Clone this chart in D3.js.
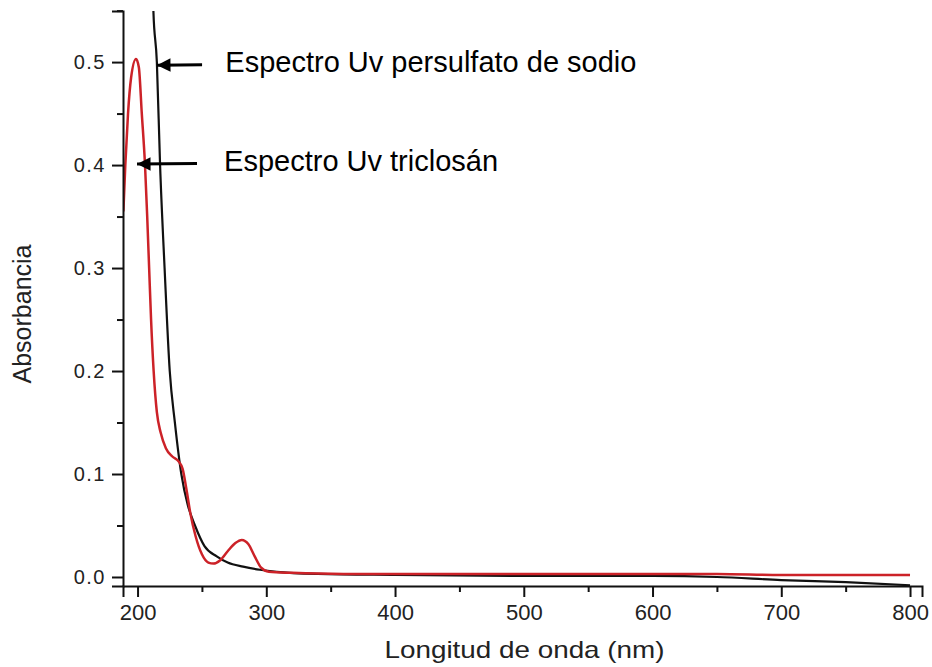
<!DOCTYPE html>
<html>
<head>
<meta charset="utf-8">
<script src="https://cdn.jsdelivr.net/npm/d3@7"></script>
<style>
  body { margin: 0; background: #fff; }
  text { font-family: "Liberation Sans", Arial, sans-serif; }
</style>
</head>
<body>
<div id="chart"></div>
<script>
// wavelength (nm) / absorbance
var persulfatoNm = [211, 212.3, 215, 217.5, 221, 225, 229, 234, 239, 244.6, 252, 261.5, 270, 282, 295, 308, 340, 400, 500, 600, 650, 700, 750, 800]
var persulfatoAbs = [0.62, 0.55, 0.5, 0.4, 0.3, 0.2, 0.15, 0.1, 0.07, 0.05, 0.03, 0.02, 0.014, 0.01, 0.007, 0.005, 0.003, 0.002, 0.001, 0.001, 0, -0.003, -0.005, -0.008]

var triclosanNm = [189, 190.5, 192.6, 195, 198.8, 201, 203.3, 205.8, 207.5, 209, 210.5, 212.5, 215, 218, 222, 227, 232, 235, 238, 241, 245, 250, 255, 259, 264, 270, 276, 281, 286, 291, 296, 302, 320, 360, 400, 500, 600, 650, 700, 800]
var triclosanAbs = [0.355, 0.4, 0.45, 0.485, 0.503, 0.495, 0.45, 0.4, 0.35, 0.3, 0.25, 0.2, 0.16, 0.14, 0.125, 0.117, 0.112, 0.105, 0.085, 0.062, 0.04, 0.022, 0.014, 0.013, 0.016, 0.025, 0.033, 0.036, 0.032, 0.02, 0.009, 0.005, 0.004, 0.003, 0.003, 0.003, 0.003, 0.003, 0.002, 0.002]

var xTicks = [200, 300, 400, 500, 600, 700, 800]
var xMinor = [250, 350, 450, 550, 650, 750]
var yTicks = [0.0, 0.1, 0.2, 0.3, 0.4, 0.5]
var yMinor = [0.05, 0.15, 0.25, 0.35, 0.45, 0.55]

var labels = ["Espectro Uv persulfato de sodio", "Espectro Uv triclosán"]
var arrowTipNm = [215.1, 199.6]
var arrowTailNm = [250.1, 246.2]
var arrowAbs = [0.497, 0.401]
var labelNm = [268.2, 267.2]

var width = 932,
    height = 667;

var x = d3.scaleLinear().domain([188.7, 809.3]).range([123, 922])
var y = d3.scaleLinear().domain([-0.00875, 0.5496]).range([586, 11])

var svg = d3.select("#chart").append("svg")
    .attr("width", width)
    .attr("height", height)

var defs = svg.append("defs")
defs.append("clipPath").attr("id", "plot")
    .append("rect")
    .attr("x", x.range()[0]).attr("y", y.range()[1])
    .attr("width", x.range()[1] - x.range()[0])
    .attr("height", y.range()[0] - y.range()[1])

defs.append("marker")
    .attr("id", "head")
    .attr("viewBox", "0 0 10 10")
    .attr("refX", 10).attr("refY", 5)
    .attr("markerWidth", 5.6).attr("markerHeight", 4.5)
    .attr("markerUnits", "strokeWidth")
    .attr("orient", "auto")
    .append("path").attr("d", "M0,0 L10,5 L0,10 z").attr("fill", "#000")

function series(nm, abs) {
    return nm.map(function(d, i) { return { nm: d, abs: abs[i] } })
}

var line = d3.line()
    .x(function(d) { return x(d.nm) })
    .y(function(d) { return y(d.abs) })
    .curve(d3.curveMonotoneX)

var plot = svg.append("g").attr("clip-path", "url(#plot)")

plot.append("path")
    .datum(series(persulfatoNm, persulfatoAbs))
    .attr("d", line)
    .attr("fill", "none")
    .attr("stroke", "#111")
    .attr("stroke-width", 2.2)

plot.append("path")
    .datum(series(triclosanNm, triclosanAbs))
    .attr("d", line)
    .attr("fill", "none")
    .attr("stroke", "#cc2228")
    .attr("stroke-width", 2.5)

// axes
var xAxis = svg.append("g")
    .attr("transform", "translate(0," + y.range()[0] + ")")
    .call(d3.axisBottom(x).tickValues(xTicks).tickSize(11).tickPadding(7).tickFormat(d3.format("d")))
svg.append("g")
    .attr("transform", "translate(0," + y.range()[0] + ")")
    .call(d3.axisBottom(x).tickValues(xMinor).tickSize(6).tickFormat(""))
    .select(".domain").remove()

var yAxis = svg.append("g")
    .attr("transform", "translate(" + x.range()[0] + ",0)")
    .call(d3.axisLeft(y).tickValues(yTicks).tickSize(11).tickPadding(6).tickFormat(d3.format(".1f")))
svg.append("g")
    .attr("transform", "translate(" + x.range()[0] + ",0)")
    .call(d3.axisLeft(y).tickValues(yMinor).tickSize(6).tickFormat(""))
    .select(".domain").remove()

svg.selectAll(".domain").attr("stroke", "#111").attr("stroke-width", 2)
svg.selectAll(".tick line").attr("stroke", "#111").attr("stroke-width", 2)
svg.selectAll(".tick text").attr("fill", "#222")
xAxis.selectAll("text").style("font-size", "22px")
yAxis.selectAll("text").style("font-size", "20px").style("letter-spacing", "1.5px")

svg.append("text")
    .attr("x", (x.range()[0] + x.range()[1]) / 2 + 2)
    .attr("y", 658)
    .attr("text-anchor", "middle")
    .attr("textLength", 280)
    .attr("lengthAdjust", "spacingAndGlyphs")
    .style("font-size", "24px")
    .attr("fill", "#222")
    .text("Longitud de onda (nm)")

svg.append("text")
    .attr("transform", "translate(31,314) rotate(-90)")
    .attr("text-anchor", "middle")
    .style("font-size", "25px")
    .attr("fill", "#222")
    .text("Absorbancia")

// annotations with arrows
labels.forEach(function(t, i) {
    var ty = y(arrowAbs[i])
    svg.append("line")
        .attr("x1", x(arrowTailNm[i])).attr("y1", ty - 0.5)
        .attr("x2", x(arrowTipNm[i])).attr("y2", ty)
        .attr("stroke", "#000")
        .attr("stroke-width", 3)
        .attr("marker-end", "url(#head)")
    svg.append("text")
        .attr("x", x(labelNm[i]))
        .attr("y", ty + 7)
        .style("font-size", "29px")
        .attr("fill", "#000")
        .text(t)
})
</script>
</body>
</html>
